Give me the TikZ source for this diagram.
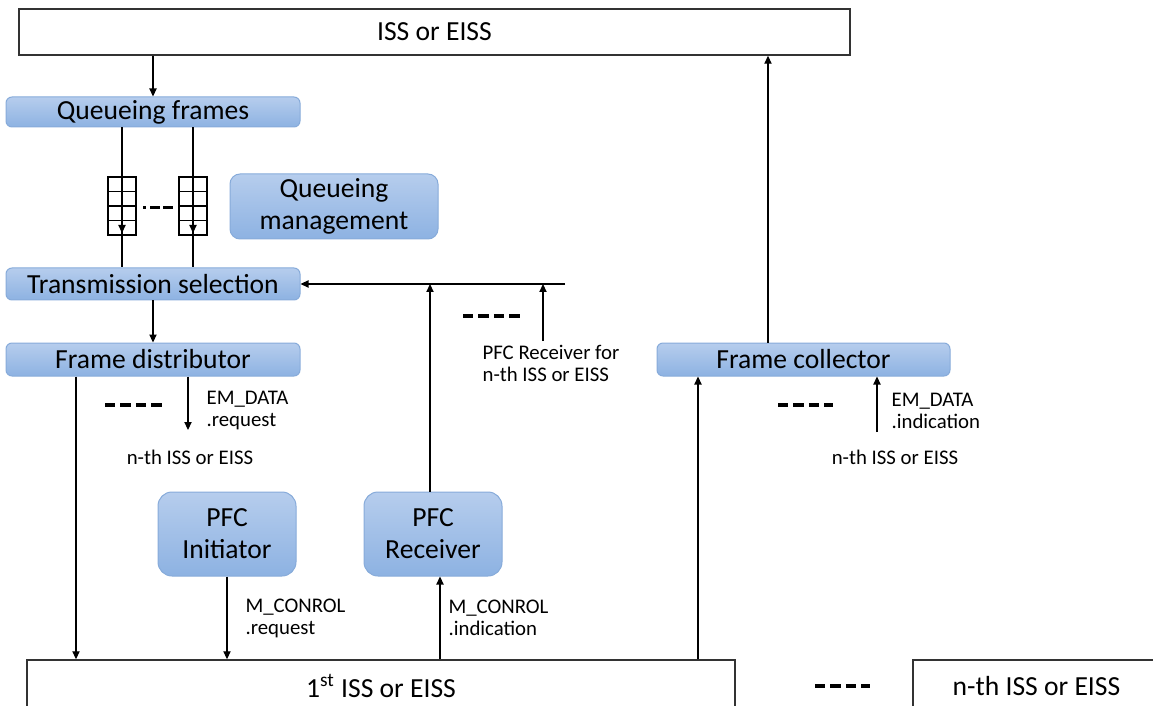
\documentclass[tikz,border=0pt]{standalone}
\usepackage{fontspec}
\setmainfont{Carlito}
\usepackage{tikz}
\usetikzlibrary{arrows.meta}

\definecolor{boxtop}{RGB}{182,205,237}
\definecolor{boxbot}{RGB}{141,178,226}
\definecolor{boxline}{RGB}{135,171,218}

\begin{document}
\begin{tikzpicture}[x=0.5pt,y=-0.5pt,line width=0.6pt,
		>={Triangle[length=4pt,width=3.6pt]},
		blk/.style={draw=black!80,line width=0.75pt,inner sep=0pt,font=\fontsize{13.8}{16}\selectfont},
		blu/.style={draw=boxline,line width=0.5pt,top color=boxtop,bottom color=boxbot,rounded corners=3pt,
			inner sep=0pt,align=center,font=\fontsize{13.8}{16}\selectfont},
		lbl/.style={inner sep=0pt,align=left,font=\fontsize{10.4}{11}\selectfont},
		gap/.style={line width=1.6pt,dash pattern=on 5.2pt off 2.5pt}]
		\useasboundingbox (0,0) rectangle (1153,706);
		\clip (0,0) rectangle (1153,706);
		\node[blk,minimum width=415.5pt,minimum height=23pt] (isstop) at (434.5,32) {ISS or EISS};
		\node[blu,minimum width=147pt,minimum height=15pt] (qframes) at (153,112) {Queueing frames};
		\node[blu,minimum width=104pt,minimum height=32.5pt,rounded corners=5pt] (qmgmt) at (334,206.5) {Queueing\\management};
		\node[blu,minimum width=147pt,minimum height=16pt] (tsel) at (153,284) {Transmission selection};
		\node[blu,minimum width=147pt,minimum height=16.5pt] (fdist) at (153,359.5) {Frame distributor};
		\node[blu,minimum width=146.5pt,minimum height=16.5pt] (fcoll) at (803.5,359.5) {Frame collector};
		\node[blu,minimum width=69pt,minimum height=42pt,rounded corners=7pt] (pfcinit) at (227,534) {PFC\\Initiator};
		\node[blu,minimum width=69pt,minimum height=42pt,rounded corners=7pt] (pfcrecv) at (433,534) {PFC\\Receiver};
		\node[blk,minimum width=354pt,minimum height=26pt] (iss1) at (381,686) {1\textsuperscript{st} ISS or EISS};
		\node[blk,minimum width=123.5pt,minimum height=26pt] (issn) at (1036.5,686) {n-th ISS or EISS};

		\coordinate (qa) at (122,0);
		\coordinate (qb) at (193,0);
		\coordinate (fbend) at (565,0);
		\coordinate (rx) at (430,0);
		\coordinate (nrx) at (543,341);
		\coordinate (dl) at (76,0);
		\coordinate (dnend) at (188,430);
		\coordinate (ri) at (440,0);
		\coordinate (cu) at (698,0);
		\coordinate (cd) at (768,0);
		\coordinate (cnend) at (877,432);

		\draw[->] (qframes.north |- isstop.south) -- (qframes.north);
		\foreach \q/\qx in {qa/122,qb/193}{
			\draw (qframes.south -| \q) -- (tsel.north -| \q);
			\draw[line width=0.7pt] (\qx-14,177) rectangle (\qx+14,235);
			\foreach \qy in {191.5,206,220.5}
				\draw[line width=0.7pt] (\qx-14,\qy) -- (\qx+14,\qy);
			\draw[->] (\qx,222) -- (\qx,233);
		}
		\draw[line width=1.5pt,dash pattern=on 1.5pt off 2pt on 5pt off 1.5pt on 5pt] (143,208) -- (176,208);

		\draw[->] (tsel.east -| fbend) -- (tsel.east);
		\draw[->] (pfcrecv.north -| rx) -- (tsel.east -| rx);
		\draw[->] (nrx) -- (tsel.east -| nrx);
		\draw[->] (tsel.south) -- (fdist.north);
		\draw[->] (fdist.south -| dl) -- (iss1.north -| dl);
		\draw[->] (fdist.south -| dnend) -- (dnend);
		\draw[->] (pfcinit.south) -- (iss1.north -| pfcinit.south);
		\draw[->] (iss1.north -| ri) -- (pfcrecv.south -| ri);
		\draw[->] (iss1.north -| cu) -- (fcoll.south -| cu);
		\draw[->] (fcoll.north -| cd) -- (isstop.south -| cd);
		\draw[->] (cnend) -- (fcoll.south -| cnend);

		\draw[gap] (105,405) -- (162,405);
		\draw[gap] (463,316) -- (520,316);
		\draw[gap] (778,405) -- (833,405);
		\draw[gap] (815,686) -- (870,686);

		\node[lbl,anchor=west] (emreq) at (206,411) {EM\_DATA\\.request};
		\node[lbl] (nthl) at (190,457) {n-th ISS or EISS};
		\node[lbl,anchor=west] (pfcfor) at (482,363.5) {PFC Receiver for\\n-th ISS or EISS};
		\node[lbl,anchor=west] (mcreq) at (245,618) {M\_CONROL\\.request};
		\node[lbl,anchor=west] (mcind) at (448,618) {M\_CONROL\\.indication};
		\node[lbl,anchor=west] (emind) at (891,411) {EM\_DATA\\.indication};
		\node[lbl] (nthr) at (895,457) {n-th ISS or EISS};
	\end{tikzpicture}
\end{document}
